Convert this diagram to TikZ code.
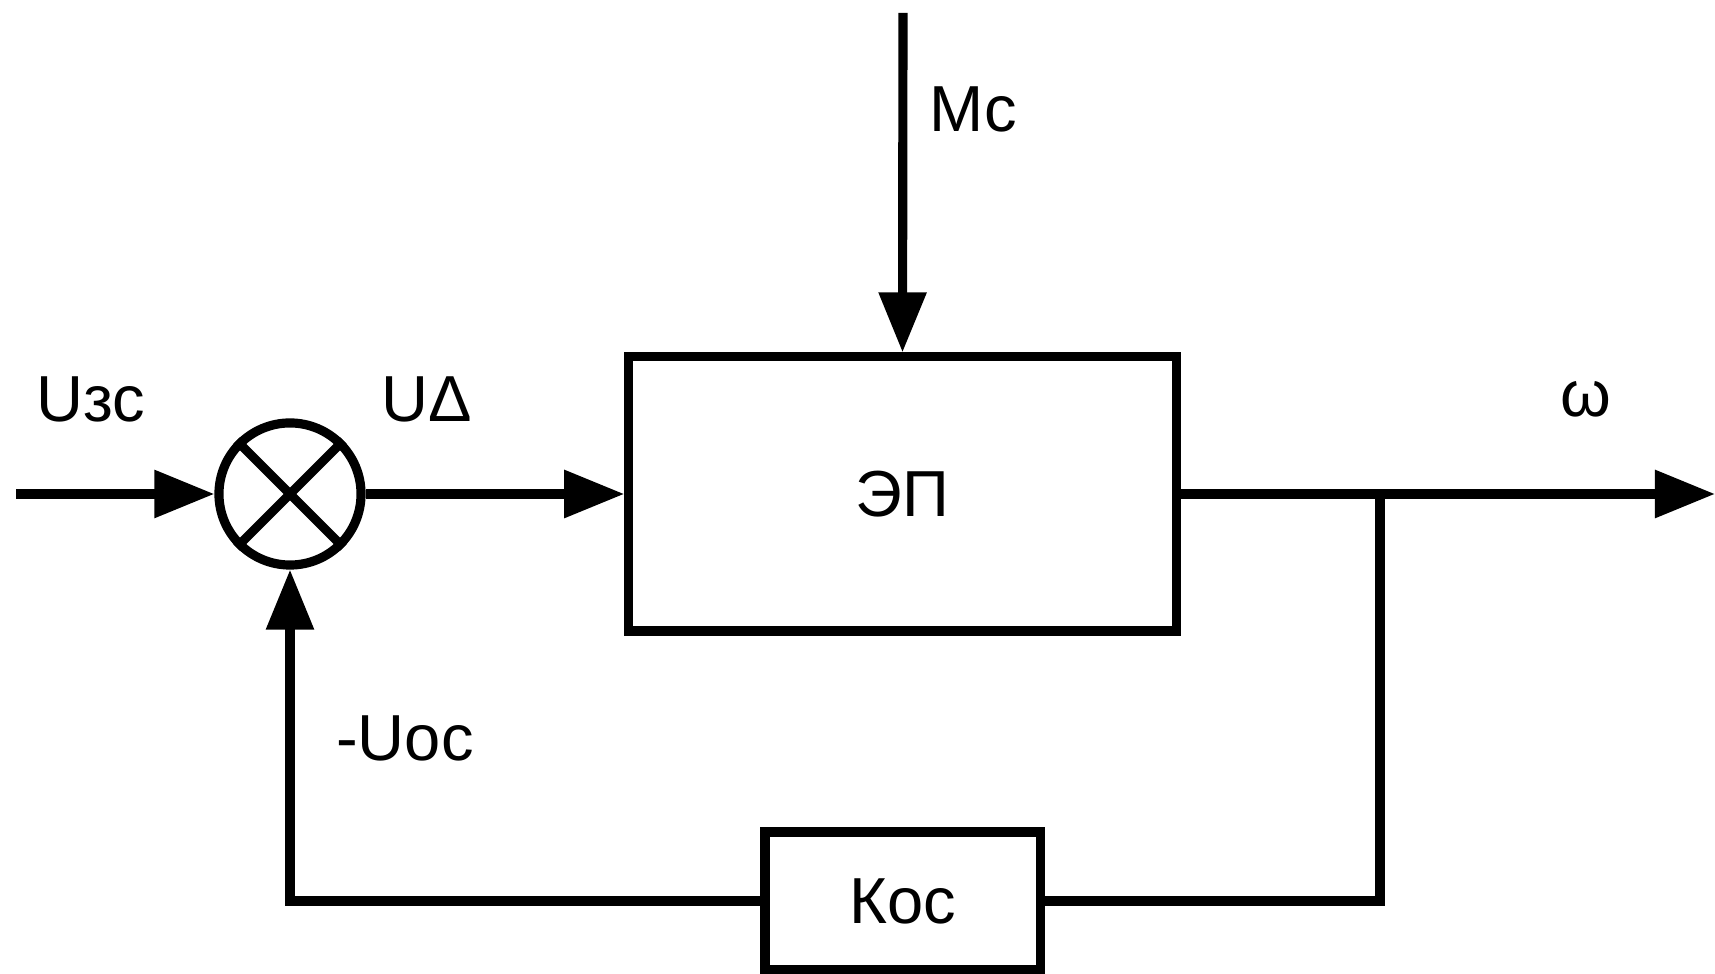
\documentclass[tikz,border=0pt]{standalone}
\usepackage{fontspec}
\setmainfont{Liberation Sans}
\usetikzlibrary{arrows.meta}
\begin{document}
\begin{tikzpicture}[x=0.01cm,y=-0.01cm,
  font=\fontsize{18.5}{22}\selectfont,
  line width=2.6pt,
  >={Triangle[length=0.6cm,width=0.46cm]},
  blockbox/.style={draw,rectangle,inner sep=0pt},
  sumnode/.style={draw,circle,minimum size=1.42cm,inner sep=0pt}]

% ---------- frame (measured from source, 1715 x 974 px) ----------
\useasboundingbox (0,0) rectangle (1715,974);

% ---------- blocks ----------
\node[blockbox,minimum width=5.47cm,minimum height=2.74cm] (ep) at (902.5,494) {ЭП};
\node[blockbox,minimum width=2.75cm,minimum height=1.38cm] (kos) at (902.5,901) {Кос};
\node[sumnode] (sum) at (290,494) {};
\draw (sum.45) -- (sum.225);
\draw (sum.135) -- (sum.315);

% ---------- free ends ----------
\coordinate (in) at (16,494);
\coordinate (mtop) at (903,13);
\coordinate (out) at (1715,494);
\coordinate (branch) at (1380,494);

% ---------- connectors ----------
\draw[->] (in) -- (sum.west);
\draw[->] (sum.east) -- (ep.west);
\draw[->] (mtop) -- (ep.north);
\draw[->] (ep.east) -- (out);
\draw (branch) |- (kos.east);
\draw[->] (kos.west) -| (sum.south);

% ---------- signal labels ----------
\node (lin) at (91,399) {Uзс};
\node (ldelta) at (427,399) {UΔ};
\node (lomega) at (1586,399) {ω};
\node (lmc) at (973,109) {Мс};
\node (lfb) at (405,738) {-Uос};

\end{tikzpicture}
\end{document}
